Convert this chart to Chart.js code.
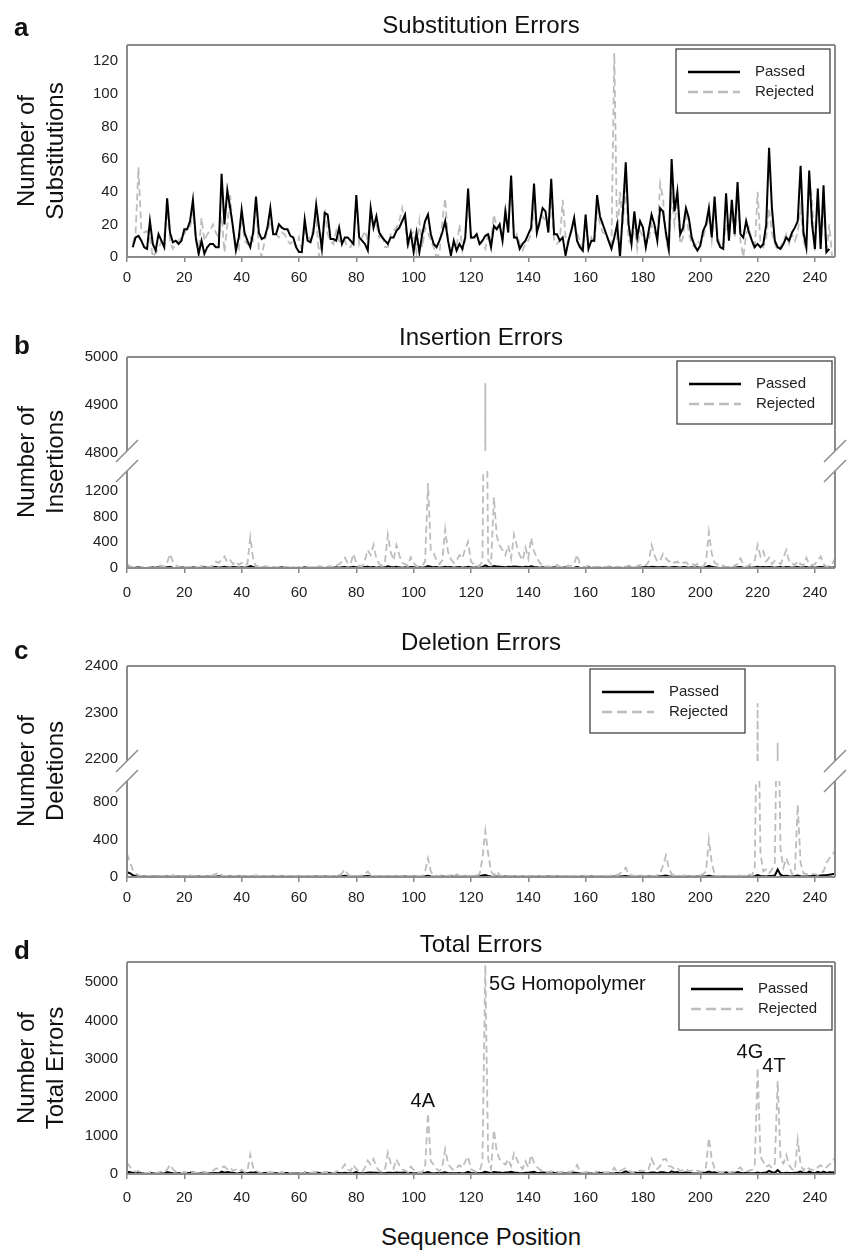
<!DOCTYPE html>
<html>
<head>
<meta charset="utf-8">
<script src="https://cdn.jsdelivr.net/npm/chart.js@4.4.1/dist/chart.umd.min.js"></script>
<style>
  body { margin: 0; background: #fff; }
  #page { position: relative; width: 847px; height: 1250px; font-family: "Liberation Sans", Arial, sans-serif; color: #111; overflow: hidden; }
  canvas { position: absolute; left: 0; }
  .letter { position: absolute; left: 14px; font-weight: bold; font-size: 26px; line-height: 26px; }
  .ptitle { position: absolute; left: 127px; width: 708px; text-align: center; font-size: 24px; line-height: 24px; white-space: nowrap; }
  .ytitle { position: absolute; left: 39.5px; width: 240px; height: 58px; margin-left: -120px; margin-top: -29px;
            font-size: 24px; line-height: 29px; text-align: center; white-space: nowrap; transform: rotate(-90deg); }
</style>
</head>
<body>
<div id="page">
  <canvas id="chartA" width="847" height="300" style="top:0px"></canvas>
  <canvas id="chartB" width="847" height="310" style="top:300px"></canvas>
  <canvas id="chartC" width="847" height="305" style="top:610px"></canvas>
  <canvas id="chartD" width="847" height="300" style="top:915px"></canvas>

  <div class="letter" style="top:14px">a</div>
  <div class="letter" style="top:332px">b</div>
  <div class="letter" style="top:637px">c</div>
  <div class="letter" style="top:937px">d</div>

  <div class="ptitle" style="top:13px">Substitution Errors</div>
  <div class="ptitle" style="top:325px">Insertion Errors</div>
  <div class="ptitle" style="top:630px">Deletion Errors</div>
  <div class="ptitle" style="top:932px">Total Errors</div>

  <div class="ytitle" style="top:151px">Number of<br>Substitutions</div>
  <div class="ytitle" style="top:462px">Number of<br>Insertions</div>
  <div class="ytitle" style="top:771px">Number of<br>Deletions</div>
  <div class="ytitle" style="top:1068px">Number of<br>Total Errors</div>

  <div class="ptitle" style="top:1225px">Sequence Position</div>
</div>

<script>
const xTicks = [0, 20, 40, 60, 80, 100, 120, 140, 160, 180, 200, 220, 240];
const yTicksSub = [0, 20, 40, 60, 80, 100, 120];
const yTicksInsLow = [0, 400, 800, 1200];
const yTicksInsHigh = [4800, 4900, 5000];
const yTicksDelLow = [0, 400, 800];
const yTicksDelHigh = [2200, 2300, 2400];
const yTicksTot = [0, 1000, 2000, 3000, 4000, 5000];
const seriesNames = ["Passed", "Rejected"];

// substitution counts start at position 2
const subStart = 2;
const subPassed = [
  6,12,13,10,6,5,22,8,4,14,
  10,6,36,15,9,10,8,10,17,17,
  22,35,12,2,10,2,6,8,8,6,
  6,51,20,41,30,18,4,12,29,15,
  10,6,15,37,15,11,12,18,30,14,
  14,20,18,17,17,13,12,6,3,3,
  23,10,9,15,32,18,5,27,26,11,
  11,10,18,8,12,12,10,8,38,12,
  10,8,4,30,18,25,15,12,10,8,
  12,12,16,18,22,26,8,15,3,15,
  3,14,22,26,14,8,6,10,15,22,
  10,1,10,4,8,5,12,42,12,12,
  14,8,10,13,14,6,19,17,20,10,
  28,15,50,12,12,5,8,10,14,18,
  45,15,22,30,28,15,48,14,14,10,
  12,1,10,16,24,10,6,4,26,5,
  10,10,38,25,20,15,10,5,12,20,
  0,28,58,20,8,28,12,22,18,6,
  16,26,20,10,30,28,15,5,60,28,
  40,14,18,30,24,12,7,4,7,16,
  20,30,12,37,10,6,5,39,10,35,
  14,46,14,12,22,15,10,6,8,6,
  8,20,67,30,10,6,5,8,12,10,
  15,18,22,56,15,6,53,20,5,42,
  5,44,3,5
];
const subRejected = [
  8,15,55,16,15,16,12,0,3,5,
  10,12,30,10,5,8,10,12,14,18,
  18,28,10,2,24,10,14,16,20,15,
  12,25,3,20,38,15,8,5,27,10,
  8,12,10,35,5,0,10,16,22,15,
  14,12,15,14,10,8,10,6,12,4,
  16,14,10,18,25,0,10,30,14,10,
  8,16,10,8,10,6,6,10,35,8,
  12,16,10,25,20,20,12,15,6,6,
  14,16,18,22,30,20,5,14,15,3,
  22,6,18,15,10,6,0,2,22,36,
  10,3,8,6,20,4,10,35,12,10,
  14,8,8,5,15,10,26,18,20,10,
  30,20,50,10,14,8,4,8,10,14,
  30,14,20,25,22,18,35,10,8,10,
  35,12,8,18,20,15,10,2,22,6,
  12,8,30,20,15,14,10,6,125,10,
  40,20,45,10,8,20,5,16,12,8,
  10,20,15,12,45,36,12,2,40,20,
  35,8,12,28,15,8,6,10,8,12,
  18,25,10,30,14,6,8,20,14,30,
  12,36,10,0,14,18,10,4,40,8,
  6,12,30,15,8,4,6,10,14,8,
  14,10,15,30,10,4,50,35,3,38,
  8,30,2,20,0
];

// insertion, deletion and total counts start at position 0
const seqStart = 0;
const insPassed = [
  10,5,0,5,10,5,0,0,5,10,
  5,10,5,0,10,15,5,0,5,10,
  5,0,5,10,5,0,5,10,5,0,
  10,15,5,10,20,10,5,15,10,5,
  10,5,10,30,15,5,0,5,10,5,
  0,5,0,5,10,0,5,0,5,0,
  5,0,10,5,0,5,0,10,5,0,
  5,10,5,10,5,10,15,5,10,20,
  10,5,10,15,20,10,15,5,10,5,
  10,25,15,10,20,10,5,10,5,15,
  10,5,10,5,10,30,20,10,15,5,
  10,20,10,15,5,10,15,5,10,20,
  10,5,10,5,15,40,20,10,30,25,
  20,15,10,20,15,25,20,15,10,20,
  15,25,15,10,5,10,5,0,5,10,
  5,0,5,10,5,0,5,15,5,0,
  5,10,0,5,10,5,0,5,10,5,
  0,10,5,0,5,10,5,0,10,5,
  10,15,10,20,15,10,10,15,10,5,
  10,15,10,5,15,10,5,10,5,10,
  5,10,15,30,20,10,5,0,5,10,
  5,0,5,10,15,5,0,10,5,10,
  20,10,15,10,15,10,5,10,15,5,
  15,10,5,10,15,5,10,15,5,10,
  5,10,15,10,5,10,5,15
];
const insRejected = [
  60,30,10,0,5,10,0,5,10,5,
  20,30,40,20,80,220,100,40,20,10,
  30,10,20,10,0,10,30,40,10,20,
  40,100,80,130,180,90,120,60,100,50,
  80,40,60,480,150,20,40,10,30,20,
  10,20,10,0,10,20,5,10,0,10,
  0,5,10,0,10,20,10,30,20,10,
  20,30,10,40,60,100,160,80,60,220,
  80,40,20,120,280,200,360,150,60,40,
  100,520,250,120,360,200,80,60,40,170,
  80,30,20,40,100,1320,260,230,120,60,
  120,600,250,140,80,120,200,150,300,410,
  100,60,20,40,100,4945,120,60,1100,500,
  350,280,200,350,150,520,350,200,120,320,
  150,470,260,160,80,40,20,30,10,20,
  50,20,10,20,40,30,60,210,60,20,
  10,40,20,10,20,10,20,10,30,20,
  10,20,10,30,20,40,20,10,30,50,
  60,40,100,360,200,100,120,220,150,100,
  120,80,100,60,80,90,50,70,40,60,
  30,20,100,560,220,80,60,20,40,10,
  20,10,40,60,150,60,20,40,80,120,
  360,180,260,100,160,60,110,100,60,160,
  280,100,80,40,110,60,40,160,60,40,
  60,120,180,60,20,30,60,150
];
const delPassed = [
  50,40,20,10,6,4,5,3,4,5,
  3,5,4,3,5,4,6,3,5,4,
  5,3,4,6,3,5,4,3,5,4,
  6,4,8,5,3,4,5,3,4,5,
  3,5,4,3,5,6,4,3,5,4,
  3,5,4,3,5,4,3,5,4,3,
  5,4,3,5,4,3,5,4,3,5,
  4,3,5,4,6,8,12,6,4,3,
  5,4,6,8,10,5,4,3,5,4,
  3,5,4,3,5,4,3,5,4,3,
  5,4,3,5,8,12,6,4,3,5,
  6,4,5,8,4,6,5,4,6,4,
  5,4,6,8,15,20,12,6,4,5,
  4,3,5,4,3,5,4,3,5,4,
  3,5,4,3,5,4,3,5,4,3,
  5,4,3,5,4,3,5,4,3,5,
  4,3,5,4,3,5,4,3,5,4,
  5,4,6,8,10,6,5,4,3,5,
  4,3,5,4,6,5,8,10,15,8,
  5,4,3,5,4,3,5,4,3,5,
  4,6,8,12,8,5,4,3,5,4,
  3,5,4,3,5,4,3,5,6,8,
  20,10,8,6,10,12,15,80,25,10,
  12,8,6,10,15,8,5,6,8,10,
  10,12,15,18,20,25,30,35
];
const delRejected = [
  250,160,80,40,20,10,15,10,5,10,
  5,10,15,10,5,10,20,15,10,5,
  10,15,20,10,15,20,10,5,10,15,
  20,30,50,20,10,15,10,5,10,15,
  10,5,10,15,10,20,10,5,10,5,
  10,5,10,15,5,10,5,10,5,10,
  5,10,5,10,5,10,15,10,5,10,
  15,10,5,10,20,40,80,30,10,5,
  10,15,20,30,60,20,10,15,10,5,
  10,5,15,10,5,10,15,10,5,10,
  15,10,5,10,60,200,60,10,15,10,
  30,10,15,20,10,30,15,10,20,10,
  15,10,20,30,200,490,250,60,20,60,
  20,10,15,10,5,10,15,10,5,10,
  15,10,5,10,15,10,5,10,15,10,
  5,10,15,10,5,10,15,10,5,10,
  15,10,5,10,15,10,20,15,10,20,
  30,20,40,60,100,30,20,15,10,20,
  15,10,20,15,10,20,40,120,230,100,
  30,20,15,10,15,20,10,15,10,20,
  20,30,60,400,150,30,10,15,10,5,
  10,15,10,20,15,10,20,30,15,100,
  2320,250,60,80,40,80,150,2235,300,100,
  200,120,30,50,770,150,40,30,20,30,
  30,20,40,60,150,200,230,280
];
const totPassed = [
  60,45,30,25,30,20,12,10,30,20,
  12,28,18,10,50,35,18,12,18,24,
  25,20,30,45,20,5,18,10,12,22,
  22,25,18,60,32,50,38,30,12,22,
  42,22,22,40,32,45,20,18,25,24,
  35,22,18,28,30,25,25,20,18,12,
  10,8,35,18,12,22,38,28,12,34,
  32,22,18,22,25,20,30,20,18,28,
  50,20,20,25,35,40,30,35,22,18,
  22,35,30,25,40,30,30,38,15,32,
  15,22,15,22,35,50,25,15,25,18,
  30,45,22,18,18,20,25,12,25,55,
  25,20,28,20,35,60,40,20,50,45,
  42,28,40,38,60,40,30,20,20,32,
  30,45,55,28,30,42,35,18,55,25,
  20,12,20,10,18,20,32,25,12,10,
  32,18,12,16,45,32,25,22,22,12,
  16,32,12,35,70,35,18,40,25,30,
  30,18,26,40,40,22,45,45,35,20,
  70,40,50,22,30,38,32,20,12,15,
  15,30,40,65,35,45,18,10,12,45,
  16,40,22,52,32,22,32,25,20,20,
  40,22,30,35,80,45,30,100,35,22,
  35,25,25,35,40,65,30,25,60,35,
  20,55,25,65,28,45,40,45
];
const totRejected = [
  300,190,100,55,80,36,30,31,27,15,
  28,45,65,42,115,240,125,63,40,27,
  54,43,58,48,25,32,64,55,34,51,
  80,145,142,175,193,125,168,80,118,70,
  117,55,78,507,170,75,55,15,50,41,
  42,40,34,27,30,44,20,28,15,26,
  17,19,31,24,25,48,50,40,35,50,
  49,50,23,66,90,148,250,116,76,235,
  125,63,52,166,350,245,390,185,82,60,
  116,560,279,146,383,232,125,90,50,194,
  110,43,47,56,178,1580,330,246,135,72,
  172,646,275,163,98,156,235,164,330,455,
  127,80,54,78,308,5440,385,130,1146,578,
  390,300,245,380,205,540,379,218,129,338,
  175,494,295,184,115,75,47,58,60,40,
  63,40,60,42,53,58,95,235,75,32,
  47,56,37,28,65,40,55,39,50,46,
  165,50,90,110,165,80,48,45,45,86,
  87,58,130,395,225,132,205,376,392,202,
  190,120,150,78,107,138,75,93,56,90,
  58,62,178,940,380,140,84,41,58,35,
  44,55,62,116,175,70,54,88,105,224,
  2760,438,326,192,230,155,268,2420,366,270,
  494,228,124,100,890,240,90,194,130,105,
  93,178,228,150,172,250,290,430
];

const totNotes = [
  { text: "5G Homopolymer", x: 126.3, y: 4790, align: "left" },
  { text: "4A", x: 103.2, y: 1745, align: "center" },
  { text: "4G", x: 217.3, y: 3020, align: "center" },
  { text: "4T", x: 225.7, y: 2655, align: "center" }
];

const FONT = "'Liberation Sans', Arial, sans-serif";
const PASSED_COLOR = "#000000";
const REJECTED_COLOR = "#bdbdbd";
const legendStyles = [
  { color: PASSED_COLOR, dash: [] },
  { color: REJECTED_COLOR, dash: [10, 5] }
];

function pts(values, start) {
  return values.map((v, i) => ({ x: start + i, y: v }));
}

function passedSet(values, start, axis) {
  return { label: seriesNames[0], data: pts(values, start), yAxisID: axis,
    borderColor: PASSED_COLOR, borderWidth: 2, pointRadius: 0, tension: 0 };
}
function rejectedSet(values, start, axis) {
  return { label: seriesNames[1], data: pts(values, start), yAxisID: axis,
    borderColor: REJECTED_COLOR, borderWidth: 1.8, borderDash: [7, 4], pointRadius: 0, tension: 0 };
}

function xAxis(pad) {
  return {
    type: "linear", min: 0, max: 247,
    afterBuildTicks: s => { s.ticks = xTicks.map(v => ({ value: v })); },
    afterFit: s => { s.height = 36; },
    grid: { display: true, drawOnChartArea: false, drawTicks: true, tickLength: 5, color: "#888", lineWidth: 1.5 },
    border: { display: false },
    ticks: { padding: pad, color: "#222", font: { family: FONT, size: 15 }, maxRotation: 0, autoSkip: false,
             callback: v => String(v) }
  };
}

function yAxis(min, max, ticks, extra) {
  return Object.assign({
    type: "linear", position: "left", min: min, max: max,
    afterBuildTicks: s => { s.ticks = ticks.map(v => ({ value: v })); },
    afterFit: s => { s.width = 57; },
    grid: { display: false, drawTicks: false },
    border: { display: false },
    ticks: { padding: 9, color: "#222", font: { family: FONT, size: 15 }, autoSkip: false,
             callback: v => String(v) }
  }, extra || {});
}

// frame, axis breaks, notes and the boxed legend
const decor = {
  id: "decor",
  beforeDatasetDraw(chart, args, opts) {
    const y = args.meta.yScale;
    const a = chart.chartArea;
    let top = y.top, bottom = y.bottom;
    if (y.id === "yHigh") bottom -= opts.gap;
    if (y.id === "yLow") top += opts.gap;
    const ctx = chart.ctx;
    ctx.save();
    ctx.beginPath();
    ctx.rect(a.left - 2, top, a.right - a.left + 4, bottom - top);
    ctx.clip();
  },
  afterDatasetDraw(chart) {
    chart.ctx.restore();
  },
  afterDraw(chart, args, opts) {
    const ctx = chart.ctx;
    const a = chart.chartArea;
    const sc = chart.scales;
    const by = sc.yLow ? sc.yLow.top : null;
    ctx.save();
    ctx.strokeStyle = "#8c8c8c";
    ctx.lineWidth = 2;
    ctx.beginPath();
    ctx.moveTo(a.left, a.top); ctx.lineTo(a.right, a.top);
    ctx.moveTo(a.left, a.bottom); ctx.lineTo(a.right, a.bottom);
    [a.left, a.right].forEach(x => {
      if (by === null) {
        ctx.moveTo(x, a.top); ctx.lineTo(x, a.bottom);
      } else {
        ctx.moveTo(x, a.top); ctx.lineTo(x, by - opts.gap);
        ctx.moveTo(x, by + opts.gap); ctx.lineTo(x, a.bottom);
      }
    });
    ctx.stroke();
    if (by !== null) {
      ctx.lineWidth = 1.5;
      ctx.beginPath();
      [a.left, a.right].forEach(x => {
        [by - opts.gap, by + opts.gap].forEach(cy => {
          ctx.moveTo(x - 11, cy + 11); ctx.lineTo(x + 11, cy - 11);
        });
      });
      ctx.stroke();
    }

    (opts.notes || []).forEach(n => {
      ctx.fillStyle = "#111";
      ctx.font = "20px " + FONT;
      ctx.textAlign = n.align;
      ctx.textBaseline = "alphabetic";
      ctx.fillText(n.text, sc.x.getPixelForValue(n.x), sc.y.getPixelForValue(n.y));
    });

    const L = opts.legend;
    const lx = L.left != null ? a.left + L.left : a.right - L.right - L.width;
    const ly = a.top + L.top;
    ctx.fillStyle = "#fff";
    ctx.fillRect(lx, ly, L.width, L.height);
    ctx.strokeStyle = "#444";
    ctx.lineWidth = 1.3;
    ctx.strokeRect(lx, ly, L.width, L.height);
    seriesNames.forEach((name, i) => {
      const yy = ly + 23 + i * 20;
      ctx.strokeStyle = legendStyles[i].color;
      ctx.lineWidth = 2.5;
      ctx.setLineDash(legendStyles[i].dash);
      ctx.beginPath();
      ctx.moveTo(lx + 12, yy); ctx.lineTo(lx + 64, yy);
      ctx.stroke();
      ctx.setLineDash([]);
      ctx.fillStyle = "#222";
      ctx.font = "15px " + FONT;
      ctx.textAlign = "left";
      ctx.textBaseline = "middle";
      ctx.fillText(name, lx + 79, yy);
    });
    ctx.restore();
  }
};

function baseOptions(padding, scales, decorOpts) {
  return {
    responsive: false,
    animation: false,
    devicePixelRatio: 1,
    layout: { padding: padding },
    scales: scales,
    plugins: {
      legend: { display: false },
      tooltip: { enabled: false },
      decor: Object.assign({ gap: 10 }, decorOpts)
    }
  };
}

// a: substitutions
new Chart(document.getElementById("chartA"), {
  type: "line",
  data: { datasets: [passedSet(subPassed, subStart, "y"), rejectedSet(subRejected, subStart, "y")] },
  options: baseOptions({ top: 45, left: 70, right: 12, bottom: 7 },
    { x: xAxis(7), y: yAxis(0, 130, yTicksSub) },
    { legend: { right: 5, top: 4, width: 154, height: 64 } }),
  plugins: [decor]
});

// b: insertions (broken axis)
new Chart(document.getElementById("chartB"), {
  type: "line",
  data: { datasets: [
    rejectedSet(insRejected, seqStart, "yLow"),
    rejectedSet(insRejected, seqStart, "yHigh"),
    passedSet(insPassed, seqStart, "yLow")
  ] },
  options: baseOptions({ top: 57, left: 70, right: 12, bottom: 6 },
    { x: xAxis(11),
      yLow: yAxis(0, 1667, yTicksInsLow, { stack: "ins", stackWeight: 107, weight: 1 }),
      yHigh: yAxis(4783, 5000, yTicksInsHigh, { stack: "ins", stackWeight: 104, weight: 2 }) },
    { legend: { right: 3, top: 4, width: 155, height: 63 } }),
  plugins: [decor]
});

// c: deletions (broken axis)
new Chart(document.getElementById("chartC"), {
  type: "line",
  data: { datasets: [
    rejectedSet(delRejected, seqStart, "yLow"),
    rejectedSet(delRejected, seqStart, "yHigh"),
    passedSet(delPassed, seqStart, "yLow")
  ] },
  options: baseOptions({ top: 56, left: 70, right: 12, bottom: 2 },
    { x: xAxis(7),
      yLow: yAxis(0, 1131, yTicksDelLow, { stack: "del", stackWeight: 106, weight: 1 }),
      yHigh: yAxis(2174, 2400, yTicksDelHigh, { stack: "del", stackWeight: 105, weight: 2 }) },
    { legend: { left: 463, top: 3, width: 155, height: 64 } }),
  plugins: [decor]
});

// d: total errors
new Chart(document.getElementById("chartD"), {
  type: "line",
  data: { datasets: [rejectedSet(totRejected, seqStart, "y"), passedSet(totPassed, seqStart, "y")] },
  options: baseOptions({ top: 47, left: 70, right: 12, bottom: 5 },
    { x: xAxis(10), y: yAxis(0, 5520, yTicksTot) },
    { legend: { right: 3, top: 4, width: 153, height: 64 }, notes: totNotes }),
  plugins: [decor]
});
</script>
</body>
</html>
